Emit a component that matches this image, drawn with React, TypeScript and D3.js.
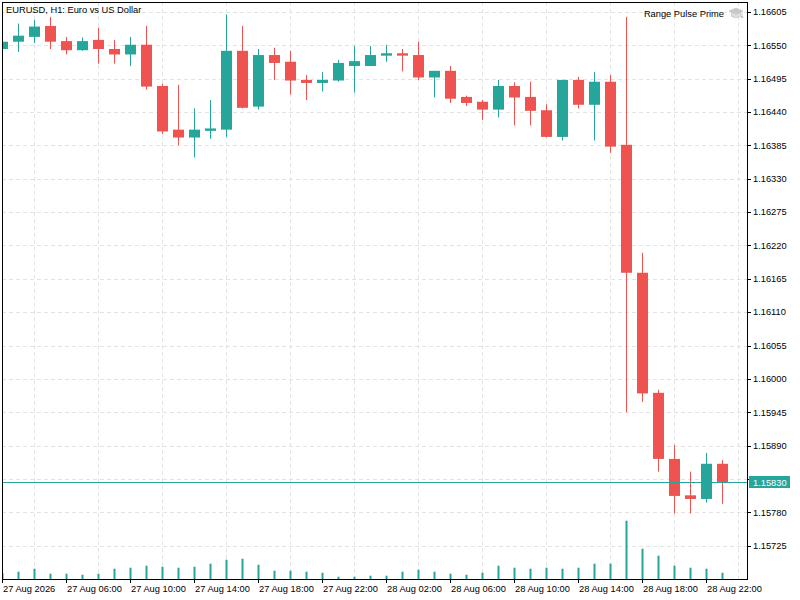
import React from "react";
import * as d3 from "d3";

const symbolTitle = "EURUSD, H1:  Euro vs US Dollar";
const indicatorName = "Range Pulse Prime";

const opens = [1.16544,1.16556,1.16564,1.16582,1.16557,1.16542,1.16559,1.16544,1.16535,1.16551,1.16483,1.16411,1.16398,1.16409,1.16411,1.16541,1.16449,1.16534,1.16523,1.16493,1.16488,1.16492,1.16516,1.16516,1.16533,1.16537,1.16534,1.16497,1.16508,1.16465,1.16457,1.16444,1.16483,1.16465,1.16443,1.16399,1.16493,1.16452,1.16490,1.16386,1.16175,1.15977,1.15868,1.15808,1.15802,1.15860];
const highs = [1.16557,1.16586,1.16592,1.16597,1.16564,1.16563,1.16579,1.16559,1.16564,1.16582,1.16487,1.16485,1.16446,1.16460,1.16601,1.16582,1.16544,1.16546,1.16541,1.16501,1.16506,1.16526,1.16549,1.16549,1.16551,1.16544,1.16556,1.16508,1.16516,1.16467,1.16460,1.16493,1.16489,1.16490,1.16453,1.16493,1.16498,1.16506,1.16501,1.16597,1.16208,1.15982,1.15891,1.15847,1.15878,1.15866];
const lows = [1.16543,1.16539,1.16554,1.16544,1.16535,1.16541,1.16520,1.16520,1.16516,1.16477,1.16404,1.16385,1.16365,1.16396,1.16399,1.16446,1.16444,1.16493,1.16469,1.16460,1.16474,1.16490,1.16472,1.16516,1.16523,1.16507,1.16493,1.16464,1.16455,1.16450,1.16427,1.16431,1.16418,1.16418,1.16398,1.16393,1.16446,1.16393,1.16373,1.15945,1.15962,1.15847,1.15778,1.15778,1.15796,1.15794];
const closes = [1.16556,1.16566,1.16581,1.16556,1.16542,1.16557,1.16544,1.16535,1.16551,1.16482,1.16408,1.16398,1.16411,1.16413,1.16541,1.16447,1.16534,1.16521,1.16492,1.16488,1.16493,1.16521,1.16524,1.16534,1.16537,1.16533,1.16497,1.16508,1.16462,1.16455,1.16444,1.16483,1.16464,1.16442,1.16399,1.16493,1.16452,1.16490,1.16383,1.16175,1.15976,1.15868,1.15807,1.15802,1.15860,1.15830];
const volumes = [600,730,1030,530,530,430,530,1030,1130,1330,1230,1130,1230,1530,1930,2030,1430,830,830,730,630,230,230,330,330,730,930,730,530,430,630,1330,1130,1030,1130,1030,1130,1530,1530,5830,3030,2330,1330,1130,1030,630];

const timeLabels = ["27 Aug 2026","27 Aug 06:00","27 Aug 10:00","27 Aug 14:00","27 Aug 18:00","27 Aug 22:00","28 Aug 02:00","28 Aug 06:00","28 Aug 10:00","28 Aug 14:00","28 Aug 18:00","28 Aug 22:00"];
const timeLabelIndex = [0,4,8,12,16,20,24,28,32,36,40,44];
const priceTicks = [1.16605,1.16550,1.16495,1.16440,1.16385,1.16330,1.16275,1.16220,1.16165,1.16110,1.16055,1.16000,1.15945,1.15890,1.15835,1.15780,1.15725];
const gridIndex = [2,6,10,14,18,22,26,30,34,38,42,46];
const lastPrice = 1.15830;

const UP = "#26a69a";
const DOWN = "#ef5350";
const GRID = "#e3e3e3";
const FONT = "'Liberation Sans', Arial, sans-serif";

export default function App() {
  const left = 2, top = 2, right = 747, bottom = 579;
  const x = d3.scaleLinear().domain([0, 45]).range([2.5, 722.5]);
  const y = d3.scaleLinear().domain([1.15780, 1.16605]).range([512.3, 12]);
  const yv = d3.scaleLinear().domain([0, 6000]).range([bottom, bottom - 60]);
  const bodyW = 11;
  const fmt = d3.format(".5f");
  const lastY = Math.round(y(lastPrice)) + 0.5;

  return (
    <div style={{ position: "fixed", left: 0, top: 0 }}>
      <svg width={800} height={600} style={{ display: "block", background: "#fff" }}>
        <defs>
          <clipPath id="plot">
            <rect x={left + 1} y={top + 1} width={right - left - 1} height={bottom - top - 1} />
          </clipPath>
        </defs>
        {/* grid */}
        <g stroke={GRID} strokeWidth={1} strokeDasharray="4,3">
          {priceTicks.map((p) => (
            <line key={"h" + p} x1={left} x2={right} y1={Math.round(y(p)) + 0.5} y2={Math.round(y(p)) + 0.5} />
          ))}
          {gridIndex.map((i) => (
            <line key={"v" + i} x1={x(i)} x2={x(i)} y1={top} y2={bottom} />
          ))}
        </g>
        <g clipPath="url(#plot)">
          {/* volumes */}
          {volumes.map((v, i) => (
            <rect key={"vol" + i} x={x(i) - 1} y={yv(v)} width={2} height={bottom - yv(v)} fill={UP} />
          ))}
          {/* candles */}
          {opens.map((o, i) => {
            const c = closes[i];
            const col = c >= o ? UP : DOWN;
            const yt = y(Math.max(o, c));
            const yb = y(Math.min(o, c));
            return (
              <g key={"c" + i}>
                <line x1={x(i)} x2={x(i)} y1={y(highs[i])} y2={y(lows[i])} stroke={col} strokeWidth={1} />
                <rect x={x(i) - bodyW / 2} y={yt} width={bodyW} height={Math.max(1.5, yb - yt)} fill={col} />
              </g>
            );
          })}
          {/* last price line */}
          <line x1={left} x2={right} y1={lastY} y2={lastY} stroke={UP} strokeWidth={1} />
        </g>
        {/* frame */}
        <rect x={left + 0.5} y={top + 0.5} width={right - left} height={bottom - top} fill="none" stroke="#000" strokeWidth={1} />
        {/* price axis */}
        <g fontFamily={FONT} fontSize={9.3} fill="#000">
          {priceTicks.map((p) => (
            <g key={"pt" + p}>
              <line x1={right} x2={right + 4} y1={Math.round(y(p)) + 0.5} y2={Math.round(y(p)) + 0.5} stroke="#000" />
              <text x={right + 6} y={y(p) + 3.3}>{fmt(p)}</text>
            </g>
          ))}
          <rect x={right + 2} y={lastY - 6.5} width={41} height={12} fill={UP} />
          <text x={right + 6} y={lastY + 3.3} fill="#fff">{fmt(lastPrice)}</text>
        </g>
        {/* time axis */}
        <g fontFamily={FONT} fontSize={9.3} fill="#000">
          {timeLabels.map((t, k) => {
            const xi = x(timeLabelIndex[k]);
            return (
              <g key={"tl" + k}>
                <line x1={xi} x2={xi} y1={bottom} y2={bottom + 4} stroke="#000" />
                <text x={xi + 0.5} y={592}>{t}</text>
              </g>
            );
          })}
        </g>
        {/* title */}
        <text x={6} y={12.7} fontFamily={FONT} fontSize={9.3} fill="#000">{symbolTitle}</text>
        <text x={724} y={16.5} textAnchor="end" fontFamily={FONT} fontSize={9.3} fill="#000">{indicatorName}</text>
        <g fill="#c8c8c8" stroke="#c8c8c8" strokeWidth={0.8}>
          <polygon points="729,11 736,8 743,11 736,14" />
          <path d="M731.5,12.5 L731.5,16.5 Q736,19 740.5,16.5 L740.5,12.5 L736,14.5 Z" fill="#e0e0e0" />
          <line x1={742} y1={11} x2={742} y2={16} />
          <circle cx={742} cy={17} r={1} />
        </g>
      </svg>
    </div>
  );
}
